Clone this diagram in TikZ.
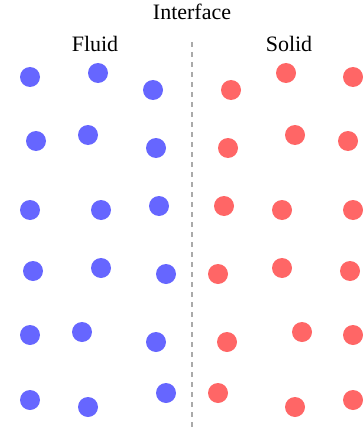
\documentclass[tikz,border=0pt]{standalone}
\usepackage{fontspec}
\setmainfont{Liberation Serif}
\usepackage{xcolor}
\usepackage{tikz}

\definecolor{fluidblue}{HTML}{6666FF}
\definecolor{solidred}{HTML}{FF6666}
\definecolor{ifacegray}{HTML}{AAAAAA}

\begin{document}
\begin{tikzpicture}[x=0.75pt, y=-0.75pt]
        \tikzset{label style/.style={text=black, font=\fontsize{16.5}{19}\selectfont, anchor=base, inner sep=0pt}}
        \tikzset{particle/.style={circle, inner sep=0pt, minimum size=15pt}}
        \tikzset{fluid dot/.style={particle, fill=fluidblue}}
        \tikzset{solid dot/.style={particle, fill=solidred}}
        \tikzset{iface line/.style={line width=1.5pt, color=ifacegray, dash pattern=on 3.75pt off 3.75pt}}

        \useasboundingbox (0,0) rectangle (363,435);

        % labels
        \node[label style] (iface) at (192, 20) {Interface};
        \node[label style] (fluid) at (95, 52) {Fluid};
        \node[label style] (solid) at (289, 52) {Solid};

        % interface line
        \coordinate (top) at (192, 42);
        \coordinate (bottom) at (192, 432);
        \draw[iface line] (top) -- (bottom);

        % fluid particles
        \foreach \x/\y [count=\i] in {30/77, 98/73, 153/90,
                                     36/141, 88/135, 156/148,
                                     30/210, 101/210, 159/206,
                                     33/271, 101/268, 166/274,
                                     30/335, 82/332, 156/342,
                                     30/400, 88/407, 166/393}
            \node[fluid dot] (f\i) at (\x, \y) {};

        % solid particles
        \foreach \x/\y [count=\i] in {231/90, 286/73, 353/77,
                                     228/148, 295/135, 348/141,
                                     224/206, 282/210, 353/210,
                                     218/274, 282/268, 350/271,
                                     227/342, 302/332, 353/335,
                                     218/393, 295/407, 353/400}
            \node[solid dot] (s\i) at (\x, \y) {};
    \end{tikzpicture}
\end{document}
